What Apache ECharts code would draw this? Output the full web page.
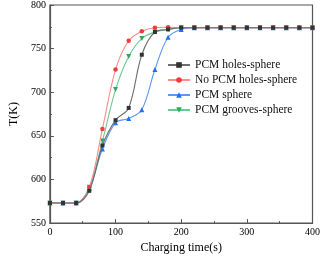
<!DOCTYPE html>
<html>
<head>
<meta charset="utf-8">
<script src="https://cdn.jsdelivr.net/npm/echarts@6/dist/echarts.min.js"></script>
<style>
  html, body { margin: 0; padding: 0; background: #fff; }
  #chart { width: 323px; height: 259px; }
</style>
</head>
<body>
<div id="chart"></div>
<script>
// charging time (s)
var times = [0, 20, 40, 60, 80, 100, 120, 140, 160, 180, 200, 220, 240, 260, 280, 300, 320, 340, 360, 380, 400]
var holes = [573, 573, 573, 587, 639, 668, 682, 743, 769, 772, 774, 774, 774, 774, 774, 774, 774, 774, 774, 774, 774]
var noPcm = [573, 573, 573, 591, 658, 726, 759, 770, 774, 774.5, 774, 774, 774, 774, 774, 774, 774, 774, 774, 774, 774]
var sphere = [573, 573, 573, 590, 635, 665, 670, 680, 726, 763, 772, 774, 774, 774, 774, 774, 774, 774, 774, 774, 774]
var grooves = [573, 573, 573, 591, 644, 703, 741, 761.5, 769, 772, 774, 774, 774, 774, 774, 774, 774, 774, 774, 774, 774]

var seriesList = [
  { name: 'PCM holes-sphere', data: holes, line: '#6e6e6e', mark: '#333333', symbol: 'rect', size: 4 },
  { name: 'No PCM holes-sphere', data: noPcm, line: '#ff8a8a', mark: '#f03c3c', symbol: 'circle', size: 4.5 },
  { name: 'PCM sphere', data: sphere, line: '#5b97f5', mark: '#1f6fe8', symbol: 'triangle', size: 5 },
  { name: 'PCM grooves-sphere', data: grooves, line: '#6cca91', mark: '#2ea85e', symbol: 'path://M0,0 L10,0 L5,9 Z', size: 5 }
]

var chart = echarts.init(document.getElementById('chart'))
var font = 'Liberation Serif, Times New Roman, serif'

var series = []
for (var i = 0; i < seriesList.length; i++) {
  var s = seriesList[i]
  var pts = []
  for (var j = 0; j < times.length; j++) pts.push([times[j], s.data[j]])
  series.push({
    name: s.name,
    type: 'line',
    smooth: 0.35,
    data: pts,
    symbol: s.symbol,
    symbolSize: s.size,
    showAllSymbol: true,
    lineStyle: { color: s.line, width: 1.1 },
    itemStyle: { color: s.mark },
    z: 10 - i
  })
}

chart.setOption({
  animation: false,
  grid: { left: 33, right: 8, top: 3, bottom: 31, show: true, borderColor: '#555', borderWidth: 1.2 },
  legend: {
    orient: 'vertical',
    left: 167,
    top: 59,
    padding: 0,
    itemWidth: 22,
    itemHeight: 7,
    itemGap: 3,
    textStyle: { fontFamily: font, fontSize: 11.5, color: '#111' },
    data: seriesList.map(function (s) { return s.name })
  },
  xAxis: {
    type: 'value',
    min: 0,
    max: 400,
    interval: 100,
    name: 'Charging time(s)',
    nameLocation: 'middle',
    nameGap: 17,
    nameTextStyle: { fontFamily: font, fontSize: 12, color: '#000' },
    axisLine: { lineStyle: { color: '#555', width: 1.2 } },
    axisTick: { inside: true, length: 4, lineStyle: { color: '#555' } },
    minorTick: { show: true, splitNumber: 2, length: 2, lineStyle: { color: '#555' } },
    axisLabel: { fontFamily: font, fontSize: 10, color: '#000', margin: 4 },
    splitLine: { show: false }
  },
  yAxis: {
    type: 'value',
    min: 550,
    max: 800,
    interval: 50,
    name: 'T(K)',
    nameLocation: 'middle',
    nameGap: 26,
    nameTextStyle: { fontFamily: font, fontSize: 12, color: '#000' },
    axisLine: { show: true, lineStyle: { color: '#555', width: 1.2 } },
    axisTick: { show: true, inside: true, length: 4, lineStyle: { color: '#555' } },
    minorTick: { show: true, splitNumber: 2, length: 2, lineStyle: { color: '#555' } },
    axisLabel: { fontFamily: font, fontSize: 10, color: '#000', margin: 4 },
    splitLine: { show: false }
  },
  series: series
})
</script>
</body>
</html>
